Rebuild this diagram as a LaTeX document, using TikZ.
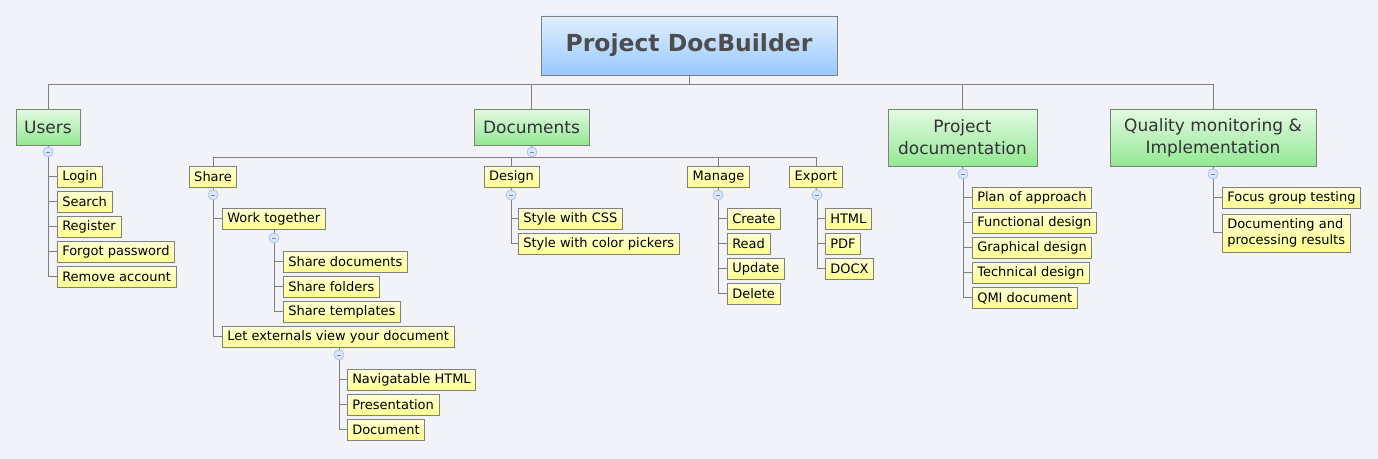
\documentclass[tikz,border=0pt]{standalone}
\usepackage{fontspec}
\setmainfont{DejaVu Sans}
\definecolor{bg}{RGB}{242,243,249}
\definecolor{lg}{RGB}{128,128,128}
\definecolor{ylt}{RGB}{255,255,214}
\definecolor{ylb}{RGB}{255,255,140}
\definecolor{glt}{RGB}{228,250,228}
\definecolor{glb}{RGB}{146,232,146}
\definecolor{blt}{RGB}{226,239,255}
\definecolor{blb}{RGB}{153,200,255}
\definecolor{tdark}{RGB}{51,51,51}
\definecolor{troot}{RGB}{77,77,77}
\definecolor{cfill}{RGB}{220,230,250}
\definecolor{cdraw}{RGB}{170,195,240}
\tikzset{
 leaf/.style={draw=lg, top color=ylt, bottom color=ylb, anchor=west, minimum height=15.75pt, inner xsep=3.75pt, inner ysep=0pt, font=\fontsize{9.75pt}{11.6pt}\selectfont, text=black},
 topic/.style={draw=lg, top color=glt, bottom color=glb, font=\fontsize{12.75pt}{16.5pt}\selectfont, text=tdark, align=center, inner sep=0pt},
 rootbox/.style={draw=lg, top color=blt, bottom color=blb, font=\fontsize{17.6pt}{22pt}\selectfont\bfseries, text=troot, inner sep=0pt, minimum width=222pt, minimum height=44.25pt},
 conn/.style={draw=lg, line width=0.75pt},
 knob/.style={circle, draw=cdraw, fill=cfill, minimum size=7.5pt, inner sep=0pt, line width=0.6pt,
   path picture={\draw[cdraw!70!blue!60!gray, line width=0.5pt] ([xshift=-1.8pt]path picture bounding box.center) -- ([xshift=1.8pt]path picture bounding box.center);}}
}
\begin{document}
\begin{tikzpicture}[x=0.75pt,y=-0.75pt]
\useasboundingbox (0,0) rectangle (1378,459);
\fill[bg] (0,0) rectangle (1378,459);

% root and topics
\node[rootbox] (root) at (689,45.5) {Project DocBuilder};
\node[topic, minimum width=48pt, minimum height=27pt] (users) at (48,127) {Users};
\node[topic, minimum width=86.25pt, minimum height=27pt] (docs) at (531.5,127) {Documents};
\node[topic, minimum width=111.75pt, minimum height=42.75pt] (pdoc) at (962.5,137.5) {Project\\documentation};
\node[topic, minimum width=154.5pt, minimum height=42.75pt] (qmi) at (1213,137.5) {Quality monitoring \&\\Implementation};

% knob coordinates
\coordinate (cU) at (48,152);
\coordinate (cD) at (532,152);
\coordinate (cP) at (963,174);
\coordinate (cQ) at (1213,174);
\coordinate (cShare) at (213,195);
\coordinate (cWork) at (274,238);
\coordinate (cLet) at (339,355);
\coordinate (cDesign) at (511,195);
\coordinate (cManage) at (718,195);
\coordinate (cExport) at (817,195);

% Users leaves
\node[leaf] (login) at (57,177) {Login};
\node[leaf] (search) at (57,202) {Search};
\node[leaf] (register) at (57,227) {Register};
\node[leaf] (forgot) at (57,252) {Forgot password};
\node[leaf] (remove) at (57,277) {Remove account};

% Documents children
\node[leaf, anchor=north] (share) at (213,166) {Share};
\node[leaf, anchor=north] (design) at (511.5,166) {Design};
\node[leaf, anchor=north] (manage) at (718.5,166) {Manage};
\node[leaf, anchor=north] (export) at (816,166) {Export};

\node[leaf] (work) at (222,219) {Work together};
\node[leaf] (sdocs) at (283,262) {Share documents};
\node[leaf] (sfold) at (283,287) {Share folders};
\node[leaf] (stemp) at (283,312) {Share templates};
\node[leaf] (let) at (222,337) {Let externals view your document};
\node[leaf] (nav) at (347,380) {Navigatable HTML};
\node[leaf] (pres) at (347,405) {Presentation};
\node[leaf] (docu) at (347,430) {Document};

\node[leaf] (css) at (518,219) {Style with CSS};
\node[leaf] (pick) at (518,244) {Style with color pickers};

\node[leaf] (create) at (727,219) {Create};
\node[leaf] (read) at (727,244) {Read};
\node[leaf] (update) at (727,269) {Update};
\node[leaf] (delete) at (727,294) {Delete};

\node[leaf] (html) at (825,219) {HTML};
\node[leaf] (pdf) at (825,244) {PDF};
\node[leaf] (docx) at (825,269) {DOCX};

% Project documentation leaves
\node[leaf] (plan) at (972,198) {Plan of approach};
\node[leaf] (func) at (972,223) {Functional design};
\node[leaf] (graph) at (972,248) {Graphical design};
\node[leaf] (tech) at (972,273) {Technical design};
\node[leaf] (qmid) at (972,298) {QMI document};

% Quality leaves
\node[leaf] (focus) at (1222,198) {Focus group testing};
\node[leaf, align=left, minimum height=28.5pt] (proc) at (1222,233) {Documenting and\\processing results};

% connectors
\coordinate (j0) at (689,85);
\coordinate (jD) at (532,158);
\draw[conn] (root.south) -- (j0) -| (users.north);
\draw[conn] (j0) -| (docs.north);
\draw[conn] (j0) -| (pdoc.north);
\draw[conn] (j0) -| (qmi.north);

\draw[conn] (users.south) -- (cU);
\foreach \n in {login,search,register,forgot,remove} \draw[conn] (cU) |- (\n.west);

\draw[conn] (docs.south) -- (cD) -- (jD);
\foreach \n in {share,design,manage,export} \draw[conn] (jD) -| (\n.north);

\draw[conn] (share.south) -- (cShare);
\draw[conn] (cShare) |- (work.west);
\draw[conn] (cShare) |- (let.west);
\draw[conn] (cWork |- work.south) -- (cWork);
\foreach \n in {sdocs,sfold,stemp} \draw[conn] (cWork) |- (\n.west);
\draw[conn] (cLet |- let.south) -- (cLet);
\foreach \n in {nav,pres,docu} \draw[conn] (cLet) |- (\n.west);

\draw[conn] (design.south) -- (cDesign);
\foreach \n in {css,pick} \draw[conn] (cDesign) |- (\n.west);
\draw[conn] (manage.south) -- (cManage);
\foreach \n in {create,read,update,delete} \draw[conn] (cManage) |- (\n.west);
\draw[conn] (export.south) -- (cExport);
\foreach \n in {html,pdf,docx} \draw[conn] (cExport) |- (\n.west);

\draw[conn] (pdoc.south) -- (cP);
\foreach \n in {plan,func,graph,tech,qmid} \draw[conn] (cP) |- (\n.west);
\draw[conn] (qmi.south) -- (cQ);
\foreach \n in {focus,proc} \draw[conn] (cQ) |- (\n.west);

% knobs
\foreach \c in {cU,cD,cP,cQ,cShare,cWork,cLet,cDesign,cManage,cExport}
  \node[knob] (k\c) at (\c) {};
\end{tikzpicture}
\end{document}
